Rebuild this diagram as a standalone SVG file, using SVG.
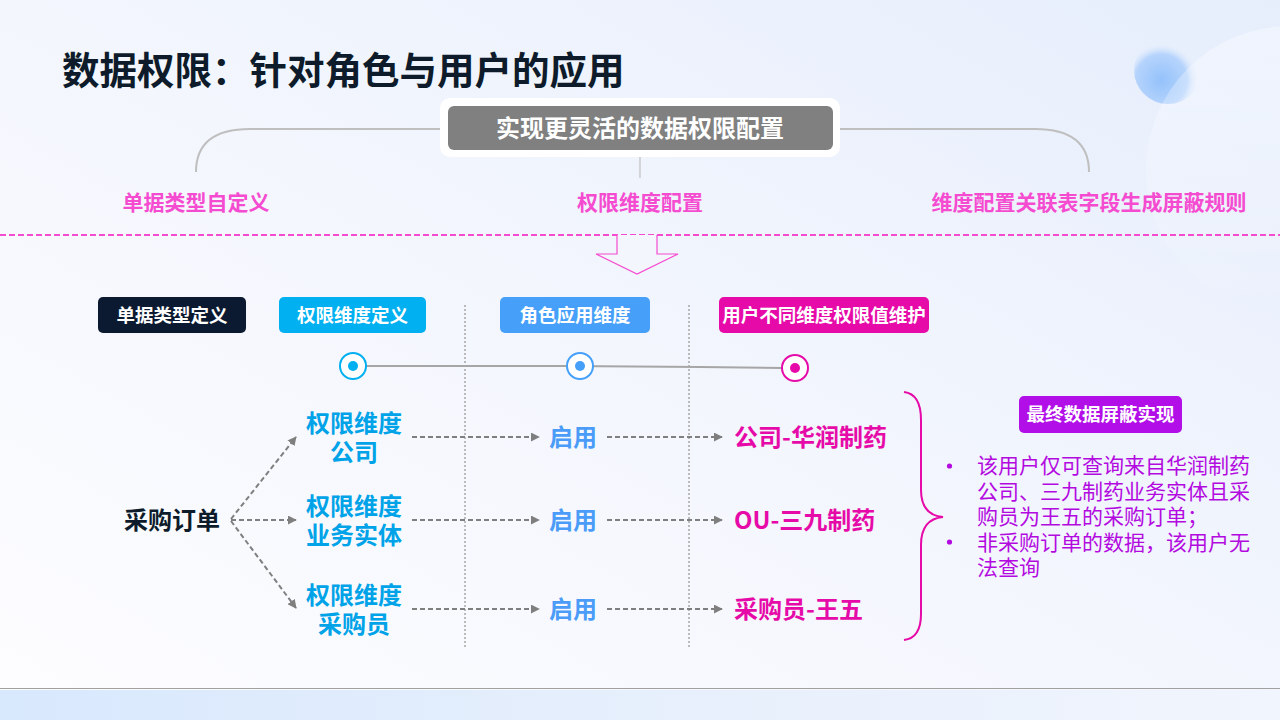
<svg xmlns="http://www.w3.org/2000/svg" width="1280" height="720" viewBox="0 0 1280 720">
<defs>
<linearGradient id="bg" x1="0" y1="1" x2="1" y2="0">
<stop offset="0" stop-color="#fdfdff"/>
<stop offset="0.5" stop-color="#f3f6fd"/>
<stop offset="1" stop-color="#e6eefc"/>
</linearGradient>
<linearGradient id="band" x1="0" y1="0" x2="1" y2="0">
<stop offset="0" stop-color="#d8e8fd"/>
<stop offset="0.5" stop-color="#e6effc"/>
<stop offset="1" stop-color="#f1f5fd"/>
</linearGradient>
<radialGradient id="orb" cx="0.4" cy="0.65" r="0.55">
<stop offset="0" stop-color="#94c2fb"/>
<stop offset="0.7" stop-color="#b6d4fc"/>
<stop offset="1" stop-color="#e6effc" stop-opacity="0"/>
</radialGradient>
<linearGradient id="arc" x1="0" y1="0" x2="0" y2="1">
<stop offset="0" stop-color="#ffffff" stop-opacity="0.35"/>
<stop offset="1" stop-color="#ffffff" stop-opacity="0"/>
</linearGradient>
<marker id="ah" viewBox="0 0 10 10" refX="9" refY="5" markerWidth="9" markerHeight="9" markerUnits="userSpaceOnUse" orient="auto">
<path d="M0,0 L10,5 L0,10 z" fill="#7f7f7f"/>
</marker>
<style>
.cjk{font-family:"Noto Sans CJK SC","Noto Sans",sans-serif;}
.b{font-weight:700;}
.hdr{font-family:"Noto Sans CJK SC",sans-serif;font-weight:700;font-size:18.5px;fill:#fff;text-anchor:middle;}
.pk{font-family:"Noto Sans CJK SC",sans-serif;font-weight:700;font-size:21px;fill:#f54bd0;text-anchor:middle;}
.dim{font-family:"Noto Sans CJK SC",sans-serif;font-weight:700;font-size:24px;fill:#00a3e8;text-anchor:middle;}
.en{font-family:"Noto Sans CJK SC",sans-serif;font-weight:700;font-size:24px;fill:#4a9cf8;text-anchor:middle;}
.val{font-family:"Noto Sans CJK SC",sans-serif;font-weight:700;font-size:24px;fill:#e60aa8;}
.bul{font-family:"Noto Sans CJK SC",sans-serif;font-size:21px;fill:#b30ae0;}
.dash{stroke:#7f7f7f;stroke-width:2;stroke-dasharray:5,3;fill:none;}
.vdot{stroke:#a6a6a6;stroke-width:1.5;stroke-dasharray:2,2;fill:none;}
.curve{stroke:#bfbfbf;stroke-width:2;fill:none;}
</style>
</defs>

<rect x="0" y="0" width="1280" height="720" fill="url(#bg)"/>
<circle cx="1168" cy="70" r="34" fill="url(#orb)"/>
<circle cx="1290" cy="170" r="144" fill="url(#arc)"/>
<line x1="0" y1="688.5" x2="1280" y2="688.5" stroke="#a0a0a0" stroke-width="1.2"/>
<rect x="0" y="690" width="1280" height="30" fill="url(#band)"/>

<g id="title">
<text x="62" y="84" class="cjk b" font-size="37.5" fill="#0d1b2a">数据权限：针对角色与用户的应用</text>
</g>

<g id="top-curves">
<path class="curve" d="M440,129 L250,129 Q196,129 196,172"/>
<path class="curve" d="M840,129 L1035,129 Q1089,129 1089,172"/>
<line x1="640" y1="150" x2="640" y2="178" stroke="#bfbfbf" stroke-width="1.2"/>
</g>

<g id="node-main">
<rect x="440" y="98" width="400" height="59" rx="10" fill="#ffffff"/>
<rect x="448" y="106" width="385" height="44" rx="6" fill="#808080"/>
<text x="640" y="137" class="cjk b" font-size="24" fill="#ffffff" text-anchor="middle">实现更灵活的数据权限配置</text>
</g>

<g id="top-labels">
<text x="196" y="210" class="pk">单据类型自定义</text>
<text x="640" y="210" class="pk">权限维度配置</text>
<text x="1089" y="210" class="pk">维度配置关联表字段生成屏蔽规则</text>
</g>

<g id="divider">
<line x1="0" y1="235" x2="1280" y2="235" stroke="#f54bd0" stroke-width="2" stroke-dasharray="6,3"/>
<path d="M617,235 L617,254 L596,254 L637,274 L678,254 L657,254 L657,235" fill="#f3f6fd" stroke="#f54bd0" stroke-width="1.2"/>
</g>

<g id="headers">
<g id="h1"><rect x="98" y="297" width="148" height="36" rx="5" fill="#0b1a30"/><text x="172" y="322" class="hdr">单据类型定义</text></g>
<g id="h2"><rect x="279" y="297" width="147" height="36" rx="5" fill="#00b0f0"/><text x="352.5" y="322" class="hdr">权限维度定义</text></g>
<g id="h3"><rect x="500" y="297" width="150" height="36" rx="5" fill="#46a0fa"/><text x="575" y="322" class="hdr">角色应用维度</text></g>
<g id="h4"><rect x="719" y="297" width="210" height="36" rx="5" fill="#e60aa8"/><text x="824" y="322" class="hdr" font-size="18px">用户不同维度权限值维护</text></g>
</g>

<g id="separators">
<line class="vdot" x1="465" y1="305" x2="465" y2="647"/>
<line class="vdot" x1="689" y1="305" x2="689" y2="647"/>
</g>

<g id="timeline">
<path d="M366,366 L567,366 L700,367 L782,368" stroke="#a6a6a6" stroke-width="2" fill="none"/>
<circle cx="353" cy="366" r="13" fill="#fff" stroke="#00b0f0" stroke-width="2"/>
<circle cx="353" cy="366" r="5" fill="#00b0f0"/>
<circle cx="580" cy="366" r="13" fill="#fff" stroke="#46a0fa" stroke-width="2"/>
<circle cx="580" cy="366" r="5" fill="#46a0fa"/>
<circle cx="795" cy="368" r="13" fill="#fff" stroke="#e60aa8" stroke-width="2"/>
<circle cx="795" cy="368" r="5" fill="#e60aa8"/>
</g>

<g id="connectors">
<line class="dash" x1="231" y1="519" x2="296" y2="437" marker-end="url(#ah)"/>
<line class="dash" x1="231" y1="520" x2="296" y2="520" marker-end="url(#ah)"/>
<line class="dash" x1="231" y1="521" x2="296" y2="608" marker-end="url(#ah)"/>
<line class="dash" x1="412" y1="437" x2="539" y2="437" marker-end="url(#ah)"/>
<line class="dash" x1="412" y1="520" x2="539" y2="520" marker-end="url(#ah)"/>
<line class="dash" x1="412" y1="609" x2="539" y2="609" marker-end="url(#ah)"/>
<line class="dash" x1="607" y1="437" x2="722" y2="437" marker-end="url(#ah)"/>
<line class="dash" x1="607" y1="520" x2="722" y2="520" marker-end="url(#ah)"/>
<line class="dash" x1="607" y1="609" x2="722" y2="609" marker-end="url(#ah)"/>
</g>

<g id="node-order">
<text x="172" y="529" class="cjk b" font-size="24" fill="#0d1b2a" text-anchor="middle">采购订单</text>
</g>

<g id="node-dim1"><text class="dim"><tspan x="354" y="432">权限维度</tspan><tspan x="354" y="461">公司</tspan></text></g>
<g id="node-dim2"><text class="dim"><tspan x="354" y="515">权限维度</tspan><tspan x="354" y="544">业务实体</tspan></text></g>
<g id="node-dim3"><text class="dim"><tspan x="354" y="604">权限维度</tspan><tspan x="354" y="633">采购员</tspan></text></g>

<g id="node-en1"><text x="573" y="446" class="en">启用</text></g>
<g id="node-en2"><text x="573" y="529" class="en">启用</text></g>
<g id="node-en3"><text x="573" y="618" class="en">启用</text></g>

<g id="node-val1"><text x="734" y="446" class="val">公司-华润制药</text></g>
<g id="node-val2"><text x="734" y="529" class="val">OU-三九制药</text></g>
<g id="node-val3"><text x="734" y="618" class="val">采购员-王五</text></g>

<g id="brace">
<path d="M904,392 Q921,394 921,420 L921,490 Q921,515 943,517 Q921,519 921,545 L921,614 Q921,638 904,640" fill="none" stroke="#e60aa8" stroke-width="2"/>
</g>

<g id="node-result">
<rect x="1019" y="396" width="163" height="37" rx="5" fill="#b10ee8"/>
<text x="1100.5" y="421" class="hdr" font-size="17px">最终数据屏蔽实现</text>
<circle cx="949.5" cy="466" r="2.6" fill="#b30ae0"/>
<circle cx="949.5" cy="542" r="2.6" fill="#b30ae0"/>
<text class="bul"><tspan x="977" y="473">该用户仅可查询来自华润制药</tspan><tspan x="977" y="499">公司、三九制药业务实体且采</tspan><tspan x="977" y="524">购员为王五的采购订单；</tspan><tspan x="977" y="550">非采购订单的数据，该用户无</tspan><tspan x="977" y="575">法查询</tspan></text>
</g>
</svg>
